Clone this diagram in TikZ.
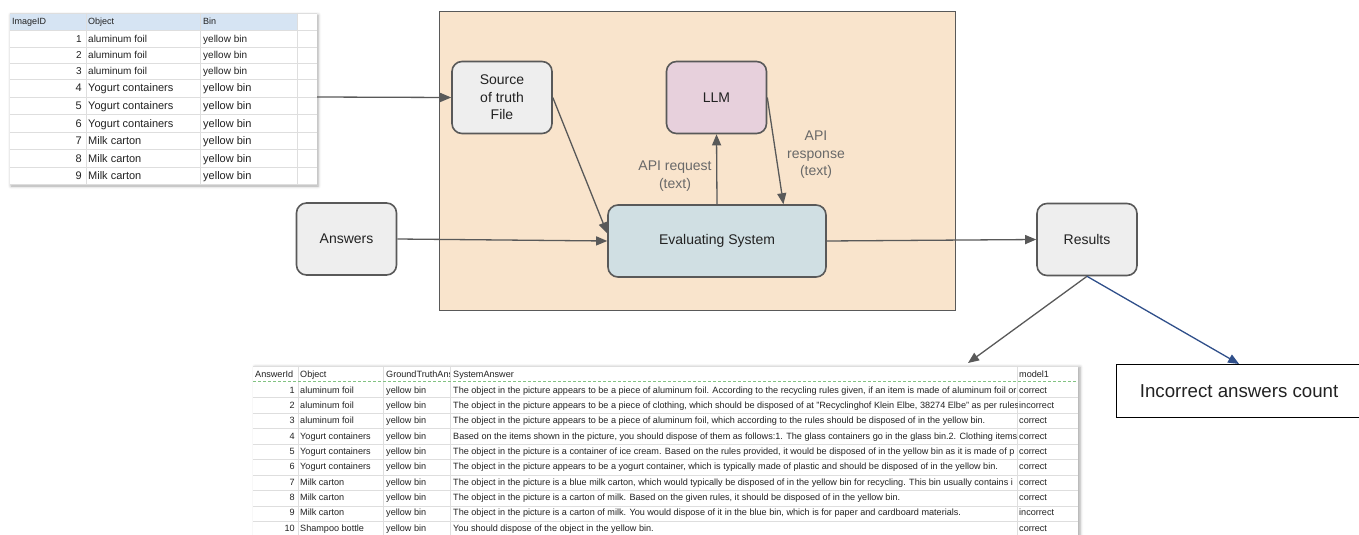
\documentclass[tikz,border=0pt]{standalone}
\usepackage{fontspec}
\setmainfont{Liberation Sans}
\usetikzlibrary{arrows.meta,shadows.blur}
\usepackage{xcolor}
\definecolor{pfirsich}{RGB}{249,228,204}
\definecolor{hellgrau}{RGB}{238,238,238}
\definecolor{rosa}{RGB}{231,208,220}
\definecolor{graublau}{RGB}{208,223,227}
\definecolor{kopfblau}{RGB}{214,228,243}
\definecolor{linie}{RGB}{89,89,89}
\definecolor{dunkelblau}{RGB}{47,79,138}
\definecolor{gitter}{RGB}{222,222,222}
\definecolor{textgrau}{RGB}{105,105,105}
\definecolor{schrift}{RGB}{34,34,34}
\definecolor{gruenlinie}{RGB}{130,195,130}

\begin{document}
\begin{tikzpicture}[x=1pt, y=-1pt,
    kasten/.style={draw=linie, line width=1.6pt, rounded corners=10pt, minimum width=100pt,
        minimum height=72pt, align=center, text=schrift, font=\fontsize{14}{17.5}\selectfont},
    pfeil/.style={draw=linie, line width=1.3pt, -{Triangle[length=11pt,width=9pt]}},
    zelle/.style={inner sep=0pt, text=schrift, anchor=base west},
    klein/.style={font=\fontsize{9.1}{10}\selectfont}]
        \useasboundingbox (0,0) rectangle (1359,535);

        % Tabelle oben links (Source of truth)
        \fill[white, blur shadow={shadow xshift=1pt, shadow yshift=-2pt, shadow blur radius=3pt, shadow opacity=35}] (10,13) rectangle (317,184);
        \fill[kopfblau] (10,13) rectangle (297,30);  % Kopfzeile
        \foreach \y in {13,30,47,63,79,97,114,132,149,167,184}
            \draw[gitter] (10,\y) -- (317,\y);
        \foreach \x in {86,200,297}
            \draw[gitter] (\x,13) -- (\x,184);
        \node[zelle, font=\fontsize{9}{10}\selectfont] (kopfid) at (12,25) {ImageID};
        \node[zelle, font=\fontsize{9}{10}\selectfont] (kopfobj) at (88,25) {Object};
        \node[zelle, font=\fontsize{9}{10}\selectfont] (kopfbin) at (203,25) {Bin};
        \foreach \nr/\obj/\y in {1/aluminum foil/42.3, 2/aluminum foil/58.8, 3/aluminum foil/74.8} {
            \node[zelle, anchor=base east, font=\fontsize{10}{12}\selectfont] (id\nr) at (82,\y) {\nr};
            \node[zelle, font=\fontsize{10}{12}\selectfont] (obj\nr) at (88,\y) {\obj};
            \node[zelle, font=\fontsize{10}{12}\selectfont] (bin\nr) at (203,\y) {yellow bin};
        }
        \foreach \nr/\obj/\y in {4/Yogurt containers/92, 5/Yogurt containers/109.5, 6/Yogurt containers/127,
                                 7/Milk carton/144.5, 8/Milk carton/162, 9/Milk carton/179.5} {
            \node[zelle, anchor=base east, font=\fontsize{11}{13}\selectfont] (id\nr) at (82,\y) {\nr};
            \node[zelle, font=\fontsize{11}{13}\selectfont] (obj\nr) at (88,\y) {\obj};
            \node[zelle, font=\fontsize{11}{13}\selectfont] (bin\nr) at (203,\y) {yellow bin};
        }
        \coordinate (tab1) at (317,97);

        % Rahmen Evaluating
        \node[draw=linie, line width=1.2pt, fill=pfirsich, minimum width=516pt, minimum height=299pt,
            anchor=north west, inner sep=0pt] (rahmen) at (439,11) {};

        % Kaesten
        \node[kasten, fill=hellgrau] (quelle) at (502,97.5) {Source\\of truth\\File};
        \node[kasten, fill=rosa] (llm) at (716.5,97.5) {LLM};
        \node[kasten, fill=graublau, minimum width=218pt] (eval) at (717,241) {Evaluating System};
        \node[kasten, fill=hellgrau] (antw) at (346.5,239) {Answers};
        \node[kasten, fill=hellgrau] (erg) at (1087,239.5) {Results};
        \node[draw=black, line width=1.2pt, minimum width=245pt, minimum height=53pt, anchor=north west,
            text=schrift, font=\fontsize{18.7}{20}\selectfont] (falsch) at (1116,364) {Incorrect answers count};

        % Beschriftungen
        \node[text=textgrau, align=center, font=\fontsize{14}{17.5}\selectfont] (anfrage) at (675,176) {API request\\(text)};
        \node[text=textgrau, align=center, font=\fontsize{14}{17.5}\selectfont] (antwort) at (816,155) {API\\response\\(text)};

        % Tabelle unten (Antworten)
        \fill[white, blur shadow={shadow xshift=2pt, shadow yshift=-1pt, shadow blur radius=3pt, shadow opacity=35}] (253,366) rectangle (1078,540);
        \foreach \y in {366,397.5,413,428.5,444,459.5,475,490.5,506,521}
            \draw[gitter] (253,\y) -- (1078,\y);
        \foreach \x in {298,383,450,1017}
            \draw[gitter] (\x,366) -- (\x,540);
        \draw[gruenlinie, densely dashed] (253,381.5) -- (1078,381.5);
        \node[zelle, klein] (kopfnr) at (255,377.3) {AnswerId};
        \node[zelle, klein] (kopfobjekt) at (300,377.3) {Object};
        \begin{scope}
            \clip (383,367) rectangle (449.5,381);
            \node[zelle, klein] (kopfgt) at (386,377.3) {GroundTruthAns};
        \end{scope}
        \node[zelle, klein] (kopfsa) at (453,377.3) {SystemAnswer};
        \node[zelle, klein] (kopfmodell) at (1019,377.3) {model1};
        \begin{scope}
            \clip (450,382) rectangle (1017,540);
            \foreach \nr/\antwort in {
                1/{The object in the picture appears to be a piece of aluminum foil. According to the recycling rules given, if an item is made of aluminum foil or},
                2/{The object in the picture appears to be a piece of clothing, which should be disposed of at "Recyclinghof Klein Elbe, 38274 Elbe" as per rules},
                3/{The object in the picture appears to be a piece of aluminum foil, which according to the rules should be disposed of in the yellow bin.},
                4/{Based on the items shown in the picture, you should dispose of them as follows:1. The glass containers go in the glass bin.2. Clothing items},
                5/{The object in the picture is a container of ice cream. Based on the rules provided, it would be disposed of in the yellow bin as it is made of p},
                6/{The object in the picture appears to be a yogurt container, which is typically made of plastic and should be disposed of in the yellow bin.},
                7/{The object in the picture is a blue milk carton, which would typically be disposed of in the yellow bin for recycling. This bin usually contains i},
                8/{The object in the picture is a carton of milk. Based on the given rules, it should be disposed of in the yellow bin.},
                9/{The object in the picture is a carton of milk. You would dispose of it in the blue bin, which is for paper and cardboard materials.},
                10/{You should dispose of the object in the yellow bin.}} {
                \pgfmathsetmacro\y{393.3+(\nr-1)*15.33}
                \node[zelle, klein] (sa\nr) at (453,\y) {\antwort};
            }
        \end{scope}
        \foreach \nr/\obj/\erg in {1/aluminum foil/correct, 2/aluminum foil/incorrect, 3/aluminum foil/correct,
                                   4/Yogurt containers/correct, 5/Yogurt containers/correct, 6/Yogurt containers/correct,
                                   7/Milk carton/correct, 8/Milk carton/correct, 9/Milk carton/incorrect,
                                   10/Shampoo bottle/correct} {
            \pgfmathsetmacro\y{393.3+(\nr-1)*15.33}
            \node[zelle, klein, anchor=base east] (nr\nr) at (295,\y) {\nr};
            \node[zelle, klein] (objekt\nr) at (300,\y) {\obj};
            \node[zelle, klein] (gt\nr) at (386,\y) {yellow bin};
            \node[zelle, klein] (modell\nr) at (1019,\y) {\erg};
        }
        \coordinate (tab2) at (968,363);

        % Pfeile
        \draw[pfeil] (tab1) -- (quelle.west);
        \draw[pfeil] (quelle.east) -- (eval.176);
        \draw[pfeil] (antw.east) -- (eval.west);
        \draw[pfeil] (eval.north) -- (llm.south);
        \draw[pfeil] (llm.east) -- (eval.29);
        \draw[pfeil] (eval.east) -- (erg.west);
        \draw[pfeil] (erg.south) -- (tab2);
        \draw[pfeil, draw=dunkelblau] (erg.south) -- (falsch.north);
\end{tikzpicture}
\end{document}
